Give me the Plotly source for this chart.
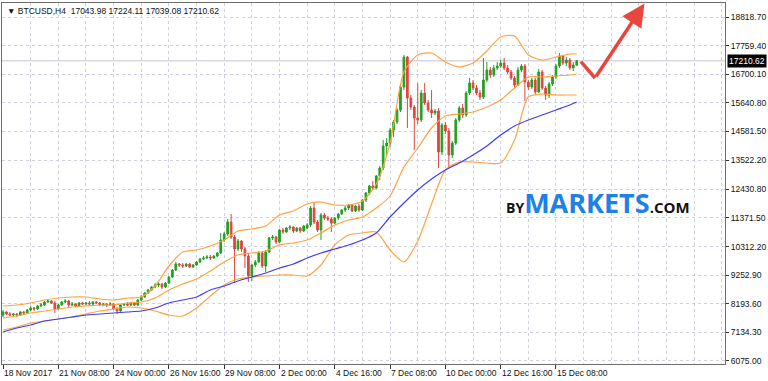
import plotly.graph_objects as go

# ---------------- data (BTCUSD, H4) ----------------
opens = [7772,7883,7809,7772,7809,7772,7883,7846,7957,8031,7994,8105,8142,8254,8291,8217,7994,8142,8254,8291,
         8142,8180,8105,8217,8180,8217,8180,8254,8217,8142,8180,8142,8180,7994,7920,8142,8180,8142,8217,8142,
         8328,8439,8588,8699,8810,8885,8922,8810,8959,9181,9441,9664,9627,9590,9664,9552,9627,9738,9849,9887,
         9924,9887,9961,10072,10555,10777,11222,10666,10221,10518,10221,9961,9219,9627,9738,10072,9590,10109,10629,10666,
         10480,10926,10852,11000,11037,10889,11000,10889,11000,11111,11742,11222,10926,11482,11371,11334,11185,11371,11520,11668,
         11742,11853,11631,11816,11668,12039,12299,12559,12484,12930,13226,14043,14154,14637,14934,15379,16233,17346,15824,15490,
         15082,15008,16010,15639,15379,15268,15342,13820,14822,14600,13709,14154,15008,15453,15193,16010,16381,16196,16010,15861,
         16492,16863,16678,16938,17012,17123,16938,16789,16567,16307,16863,17012,16418,16233,16492,16047,16789,16196,15936,16344,
         16604,17012,17383,17123,17234,16938,17043.98]
highs = [7957,7920,7883,7846,7846,7920,7920,7994,8105,8068,8142,8217,8291,8365,8328,8291,8180,8291,8365,8328,
         8254,8217,8254,8254,8254,8291,8291,8291,8254,8217,8217,8254,8217,8068,8180,8217,8254,8254,8254,8365,
         8514,8625,8736,8847,8959,8996,8959,8996,9219,9478,9738,9701,9701,9701,9701,9664,9775,9887,9961,9998,
         9998,9998,10109,10814,10852,11334,11520,10740,10592,10555,10295,10035,9664,9812,10146,10109,10183,10666,10740,10703,
         10963,11000,11037,11111,11074,11037,11037,11111,11185,11816,11928,11297,11557,11557,11445,11408,11408,11557,11705,11816,
         11891,11891,11853,11891,12076,12336,12596,12744,12967,13301,14266,14340,14711,15008,15453,16307,17420,17383,15936,15565,
         16381,16121,16381,15750,16121,15416,15453,14897,14934,14711,14229,15082,15527,15602,16084,16567,16492,16307,16121,17309,
         17160,16975,17049,17160,17234,17309,17049,16863,16641,16975,17086,17086,16492,16567,16567,16900,16863,16270,16418,16678,
         17086,17494,17420,17346,17309,17160,17224.11]
lows = [7697,7772,7734,7734,7697,7734,7772,7809,7920,7920,7957,8068,8105,8217,8180,7846,7957,8105,8217,8068,
        8105,8068,8068,8142,8142,8142,8142,8180,8105,8105,8068,8105,7957,7809,7883,8105,8105,8105,8105,8105,
        8291,8402,8551,8662,8773,8810,8736,8773,8922,9144,9404,9552,9515,9552,9515,9515,9590,9701,9812,9849,
        9812,9849,9924,10035,10480,10703,10592,8959,10146,10109,9515,8996,9033,9552,9701,9515,9367,10072,10555,10406,
        10443,10777,10814,10926,10814,10852,10814,10852,10963,11037,11148,10852,10555,11297,11260,10852,11148,11297,11482,11594,
        11668,11594,11594,11594,11631,11965,12225,12410,12447,12781,13152,13709,14006,14377,14860,15305,16121,14711,15379,13895,
        14860,14934,15565,15305,15082,15193,13226,13709,14488,13264,13598,14080,14934,15082,15119,15936,16121,15936,15750,15787,
        16418,16567,16604,16863,16938,16863,16715,16492,16196,16270,16789,15713,16121,16158,15936,16010,16121,15750,15824,16270,
        16529,16938,17049,17012,16863,16826,17039.08]
closes = [7883,7809,7772,7809,7772,7883,7846,7957,8031,7994,8105,8142,8254,8291,8217,7994,8142,8254,8291,8142,
          8180,8105,8217,8180,8217,8180,8254,8217,8142,8180,8142,8180,7994,7920,8142,8180,8142,8217,8142,8328,
          8439,8588,8699,8810,8885,8922,8810,8959,9181,9441,9664,9627,9590,9664,9552,9627,9738,9849,9887,9924,
          9887,9961,10072,10555,10777,11222,10666,10221,10518,10221,9961,9219,9627,9738,10072,9590,10109,10629,10666,10480,
          10926,10852,11000,11037,10889,11000,10889,11074,11111,11742,11222,10926,11482,11371,11334,11185,11371,11520,11668,11742,
          11853,11631,11816,11668,12039,12299,12559,12484,12930,13226,14043,14154,14637,14934,15379,16233,17346,15824,15490,15082,
          15008,16010,15639,15379,15268,15342,13820,14822,14600,13709,14154,15008,15453,15193,16010,16381,16196,16010,15861,16492,
          16863,16678,16938,17012,17123,16938,16789,16567,16307,16863,17012,16418,16233,16492,16047,16789,16196,15936,16344,16604,
          17012,17383,17123,17234,16938,17049,17210.62]
bars = list(range(len(closes)))

# indicator values read at every 4th bar
ind_bars = [0,4,8,12,16,20,24,28,32,36,40,44,48,52,56,60,64,68,72,76,80,84,88,92,96,100,104,108,112,116,120,
            124,128,132,136,140,144,148,152,156,160,164,166]
bb_upper = [8105,8142,8217,8328,8402,8439,8439,8365,8328,8402,8439,8847,9590,10109,10183,10331,10555,10889,10963,11074,
            11482,11631,11891,11965,11853,11853,12002,12633,14154,16789,17420,17494,17160,16975,17123,17568,18088,18125,
            17420,17234,17346,17457,17457]
bb_middle = [7660,7734,7846,7920,7994,8068,8105,8142,8142,8217,8254,8402,8699,8922,9107,9404,9738,9998,10072,10146,
             10369,10443,10555,10814,11111,11297,11408,11742,12188,13264,13969,14711,15156,15230,15305,15490,15750,16196,
             16604,16604,16641,16678,16715]
bb_lower = [7215,7326,7475,7549,7623,7697,7809,7920,7994,8068,8031,7920,7772,7734,8031,8477,8885,9107,9181,9219,
            9256,9256,9219,9627,10369,10740,10814,10852,10183,9738,10518,11891,13152,13449,13449,13412,13412,14266,
            15861,15973,15936,15936,15936]
ma_line = [7141,7289,7400,7549,7623,7697,7772,7809,7846,7883,7920,8031,8217,8328,8439,8699,8847,9033,9181,9330,
           9515,9664,9887,10072,10221,10369,10555,10814,11408,11928,12410,12818,13152,13412,13709,14043,14451,14785,
           15008,15193,15379,15565,15676]

x_tick_bars = [0,16,32,48,64,80,96,112,128,144,160]
x_tick_labels = ["18 Nov 2017","21 Nov 08:00","24 Nov 00:00","26 Nov 16:00","29 Nov 08:00","2 Dec 00:00",
                 "4 Dec 16:00","7 Dec 08:00","10 Dec 00:00","12 Dec 16:00","15 Dec 08:00"]
y_ticks = [18818.70,17759.40,16700.10,15640.80,14581.50,13522.20,12430.80,11371.50,10312.20,9252.90,8193.60,7134.30,6075.00]
last_price = 17210.62
title_text = "▼ BTCUSD,H4  17043.98 17224.11 17039.08 17210.62"

# ---------------- styles ----------------
FONT = "Liberation Sans, Arial, DejaVu Sans, sans-serif"
GREEN = "#22a022"
RED = "#e2443d"
ORANGE = "#ffa23f"
BLUE = "#3d3df2"
GRID = "#cfcfe6"
ARROW = "#e8473f"

fig = go.Figure()

for vals in (bb_upper, bb_middle, bb_lower):
    fig.add_trace(go.Scatter(x=ind_bars, y=vals, mode="lines",
                             line=dict(color=ORANGE, width=1.2, shape="spline", smoothing=0.7),
                             hoverinfo="skip", showlegend=False))
fig.add_trace(go.Scatter(x=ind_bars, y=ma_line, mode="lines",
                         line=dict(color=BLUE, width=1.2, shape="spline", smoothing=0.7),
                         hoverinfo="skip", showlegend=False))

fig.add_trace(go.Candlestick(
    x=bars, open=opens, high=highs, low=lows, close=closes,
    increasing=dict(line=dict(color=GREEN, width=1), fillcolor=GREEN),
    decreasing=dict(line=dict(color=RED, width=1), fillcolor=RED),
    whiskerwidth=0, showlegend=False))

annotations = []
for b, lab in zip(x_tick_bars, x_tick_labels):
    annotations.append(dict(x=b, xref="x", y=0, yref="paper", yanchor="top", xanchor="left",
                            yshift=-2, xshift=-1, text=lab, showarrow=False,
                            font=dict(family=FONT, size=8.5, color="#111")))
annotations.append(dict(x=0, xref="paper", y=1, yref="paper", xanchor="left", yanchor="top",
                        xshift=3, yshift=-1, text=title_text, showarrow=False,
                        font=dict(family=FONT, size=8.5, color="#111")))
annotations.append(dict(x=1, xref="paper", y=last_price, yref="y", xanchor="left", yanchor="middle",
                        xshift=2, text=f"{last_price:.2f}", showarrow=False, bgcolor="#000000",
                        borderpad=1, font=dict(family=FONT, size=8.5, color="#ffffff")))
annotations.append(dict(x=0.824, xref="paper", y=0.447, yref="paper", xanchor="center", yanchor="middle",
                        showarrow=False,
                        text=("<b><span style='font-size:14px;color:#111111'>BY</span>"
                              "<span style='font-size:27px;color:#1f80e6'>MARKETS</span>"
                              "<span style='font-size:15px;color:#111111'>.COM</span></b>"),
                        font=dict(family="Open Sans, DejaVu Sans, sans-serif")))
# red arrow
annotations.append(dict(x=185.6, y=19330, xref="x", yref="y", ax=171.3, ay=16566, axref="x", ayref="y",
                        showarrow=True, arrowhead=2, arrowsize=1.3, arrowwidth=3.5, arrowcolor=ARROW,
                        text=""))

shapes = [
    dict(type="line", xref="paper", x0=0, x1=1, yref="y", y0=last_price, y1=last_price,
         line=dict(color="#d6d6e8", width=1.5), layer="below"),
    dict(type="line", xref="x", yref="y", x0=167.2, y0=17171, x1=171.3, y1=16566,
         line=dict(color=ARROW, width=3.5)),
]

fig.update_layout(
    width=768, height=381,
    margin=dict(l=2, r=43, t=3, b=17),
    paper_bgcolor="white", plot_bgcolor="white",
    showlegend=False,
    font=dict(family=FONT, size=8.5, color="#111"),
    annotations=annotations, shapes=shapes,
    xaxis=dict(range=[-0.29, 208.9], rangeslider=dict(visible=False),
               tickvals=x_tick_bars, showticklabels=False, ticks="outside", ticklen=4,
               tickcolor="#333", showgrid=True, gridcolor=GRID, griddash="3px,3px", gridwidth=1,
               minor=dict(dtick=8, tick0=0, showgrid=True, gridcolor=GRID, griddash="3px,3px", ticks=""),
               showline=True, linecolor="#6e6e6e", linewidth=1, mirror=True, zeroline=False),
    yaxis=dict(range=[5953, 19350], side="right", tickvals=y_ticks,
               ticktext=[f"{v:.2f}" for v in y_ticks], ticks="outside", ticklen=3, tickcolor="#333",
               showgrid=True, gridcolor=GRID, griddash="3px,3px", gridwidth=1,
               showline=True, linecolor="#6e6e6e", linewidth=1, mirror=True, zeroline=False,
               tickfont=dict(family=FONT, size=8.5, color="#111")),
)

fig.write_html("out.html")
